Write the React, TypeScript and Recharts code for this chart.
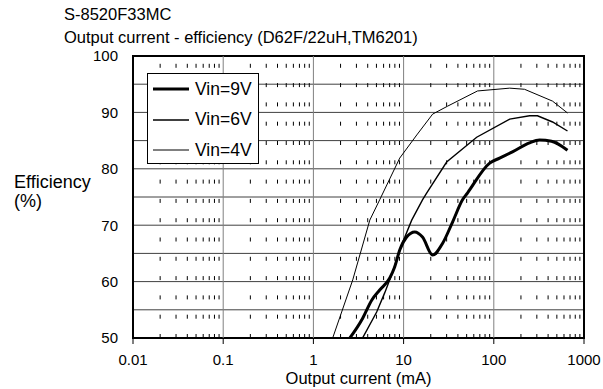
import { LineChart, Line, XAxis, YAxis, CartesianGrid, ReferenceLine, ReferenceArea, Legend } from 'recharts'

const FONT = '"Liberation Sans", Arial, sans-serif'

const decadeTicks = [0.01, 0.1, 1, 10, 100, 1000]
const minorSteps = [2, 3, 4, 5, 6, 7, 8, 9]
const effTicks = [50, 55, 60, 65, 70, 75, 80, 85, 90, 95, 100]

// Vin=9V
const vin9Current = [2.2, 3.52, 4.43, 5.43, 7.0, 7.96, 9.06, 10.8, 13.3, 16.2, 21, 27.1, 35, 45, 51, 90, 116, 161, 249, 321, 436, 656]
const vin9Eff = [48.7, 53.5, 56.7, 58.5, 60.6, 62.6, 65.6, 67.9, 68.8, 67.9, 64.7, 66.8, 70.6, 74.5, 75.7, 81, 81.9, 83, 84.6, 85.1, 84.9, 83.3]

// Vin=6V
const vin6Current = [3.27, 5.03, 6.17, 7.57, 9.5, 12.3, 16.2, 18, 30, 64.6, 150, 249, 305, 448, 656]
const vin6Eff = [49.1, 54.6, 58, 61.7, 66.5, 70.9, 74.5, 75.7, 81.2, 85.6, 88.8, 89.4, 89.4, 88.3, 86.7]

// Vin=4V
const vin4Current = [1.58, 2.73, 4.22, 5.43, 9.06, 14, 21, 30.7, 66, 150, 219, 448, 656]
const vin4Eff = [49.3, 60.3, 70.9, 74.5, 81.9, 86, 89.7, 91.1, 93.8, 94.3, 94.1, 92, 89.9]

const toPoints = (xs: number[], ys: number[]) => xs.map((x, i) => ({ x, y: ys[i] }))

const series = [
  { name: 'Vin=9V', data: toPoints(vin9Current, vin9Eff), width: 3, type: 'monotone' as const },
  { name: 'Vin=6V', data: toPoints(vin6Current, vin6Eff), width: 1.4, type: 'linear' as const },
  { name: 'Vin=4V', data: toPoints(vin4Current, vin4Eff), width: 1, type: 'linear' as const },
]

const minorTicks = decadeTicks.slice(0, -1).flatMap((d) => minorSteps.map((m) => +(d * m).toPrecision(3)))

function LegendBox() {
  return (
    <div
      style={{
        width: 112,
        height: 91,
        boxSizing: 'border-box',
        border: '1px solid #000',
        background: '#fff',
        fontFamily: FONT,
        fontSize: 17.5,
        color: '#000',
      }}
    >
      {series.map((s) => (
        <div key={s.name} style={{ display: 'flex', alignItems: 'center', height: 30.5 }}>
          <svg width={46} height={10} style={{ flexShrink: 0 }}>
            <line x1={5} x2={41} y1={5} y2={5} stroke="#000" strokeWidth={s.width} />
          </svg>
          <span style={{ marginLeft: 1, lineHeight: '17px', whiteSpace: 'nowrap' }}>{s.name}</span>
        </div>
      ))}
    </div>
  )
}

export default function App() {
  return (
    <div style={{ position: 'absolute', left: 0, top: 0, width: 603, height: 389, background: '#fff' }}>
      <div style={{ position: 'absolute', left: 64, top: 6, fontFamily: FONT, fontSize: 16.5, lineHeight: '16.5px', whiteSpace: 'nowrap' }}>
        S-8520F33MC
      </div>
      <div style={{ position: 'absolute', left: 64, top: 28.5, fontFamily: FONT, fontSize: 16.5, lineHeight: '16.5px', whiteSpace: 'nowrap' }}>
        Output current - efficiency (D62F/22uH,TM6201)
      </div>
      <div style={{ position: 'absolute', left: 14, top: 173, fontFamily: FONT, fontSize: 18, lineHeight: '19px' }}>
        Efficiency
        <br />
        (%)
      </div>
      <div style={{ position: 'absolute', left: 133, width: 451, top: 371.5, textAlign: 'center', fontFamily: FONT, fontSize: 16.5, lineHeight: '13px', whiteSpace: 'nowrap' }}>
        Output current (mA)
      </div>

      <LineChart width={603} height={389} margin={{ top: 56, right: 19, bottom: 21, left: 0 }}>
        <CartesianGrid horizontal vertical={false} stroke="#404040" />
        <XAxis
          dataKey="x"
          type="number"
          scale="log"
          domain={[0.01, 1000]}
          ticks={decadeTicks}
          allowDataOverflow
          height={30}
          axisLine={false}
          tickLine={{ stroke: '#000' }}
          tickSize={6}
          tickMargin={10.5}
          tick={{ fill: '#000', fontSize: 15, fontFamily: FONT }}
          tickFormatter={(v: number) => String(v)}
        />
        <YAxis
          type="number"
          domain={[50, 100]}
          ticks={effTicks}
          allowDataOverflow
          width={133}
          axisLine={false}
          tickLine={false}
          tickSize={6}
          tickMargin={9}
          tick={{ fill: '#000', fontSize: 15, fontFamily: FONT }}
          tickFormatter={(v: number) => (v % 10 === 0 ? String(v) : '')}
        />
        {minorTicks.map((v) => (
          <ReferenceLine key={`m-${v}`} x={v} stroke="#000" strokeDasharray="4 15.3" />
        ))}
        {decadeTicks.slice(1, -1).map((v) => (
          <ReferenceLine key={`d-${v}`} x={v} stroke="#808080" />
        ))}
        {series.map((s) => (
          <Line
            key={s.name}
            data={s.data}
            dataKey="y"
            name={s.name}
            type={s.type}
            stroke="#000"
            strokeWidth={s.width}
            dot={false}
            activeDot={false}
            isAnimationActive={false}
          />
        ))}
        <ReferenceArea x1={0.01} x2={1000} y1={50} y2={100} fill="none" stroke="#000" strokeWidth={2} />
        <Legend
          layout="vertical"
          align="center"
          verticalAlign="middle"
          content={() => <LegendBox />}
          wrapperStyle={{ position: 'absolute', left: 147, top: 73, width: 112, height: 91 }}
        />
      </LineChart>
    </div>
  )
}
